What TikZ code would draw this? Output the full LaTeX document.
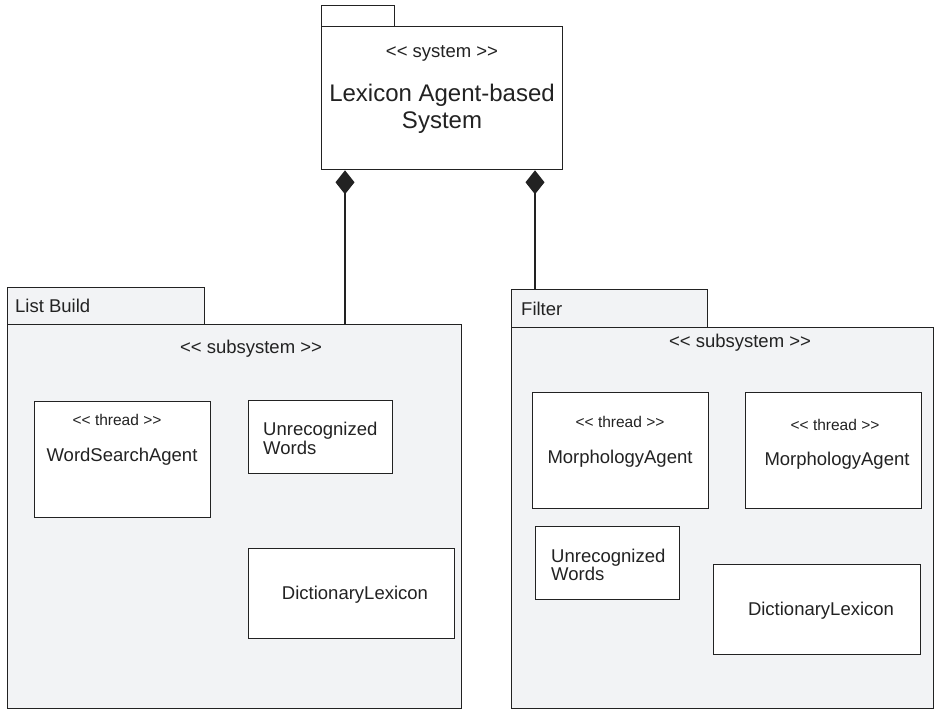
\documentclass[tikz,border=0pt]{standalone}
\usepackage{fontspec}
\setmainfont{Liberation Sans}
\usetikzlibrary{arrows.meta, positioning}
\definecolor{ink}{HTML}{222222}
\definecolor{pkggray}{HTML}{F2F3F5}
\newcommand{\stereo}[1]{<{}< #1 >{}>}

\begin{document}
\begin{tikzpicture}[
  x=1pt, y=-1pt,
  txt/.style={font=\fontsize{18.5}{17}\selectfont, text=ink, inner sep=0pt},
  small/.style={font=\fontsize{15.5}{17}\selectfont, text=ink, inner sep=0pt},
  title/.style={font=\fontsize{24}{27}\selectfont, text=ink, align=center, inner sep=0pt},
  box/.style={draw=ink, line width=1.3pt, fill=white, anchor=north west, inner sep=0pt},
  pkg/.style={box, fill=pkggray},
  comp/.style={{Diamond[length=24pt, width=19pt]}-, line width=1.3pt, draw=ink},
]
\useasboundingbox (0,0) rectangle (935,710);

% ---------- SYSTEM PACKAGE ----------
\node[box, minimum width=73pt, minimum height=21pt] (sysTab) at (321,5) {};
\node[box, minimum width=241pt, minimum height=143pt] (sys) at (321,26) {};
\node[txt] (sysStereo) at (442,53) {\stereo{system}};
\node[title] (sysName) at (442,108.5) {Lexicon Agent-based\\System};

% ---------- LIST BUILD PACKAGE ----------
\node[pkg, minimum width=197pt, minimum height=37pt] (lbTab) at (7,287) {};
\node[pkg, minimum width=454pt, minimum height=384pt] (lb) at (7,324) {};
\node[txt, right=8pt of lbTab.west] (lbName) {List Build};
\node[txt] (lbStereo) at (251,349) {\stereo{subsystem}};

\node[box, minimum width=176pt, minimum height=116pt] (wsa) at (34,401) {};
\node[small] (wsaStereo) at (117,420) {\stereo{thread}};
\node[txt] (wsaName) at (122,457) {WordSearchAgent};

\node[box, minimum width=144pt, minimum height=73pt] (lbWords) at (248,400) {};
\node[txt, anchor=west, align=left] (lbWordsName) at (263,438.5) {Unrecognized\\Words};

\node[box, minimum width=206pt, minimum height=90pt] (lbDict) at (248,548) {};
\node[txt] (lbDictName) at (355,595) {DictionaryLexicon};

% ---------- FILTER PACKAGE ----------
\node[pkg, minimum width=196pt, minimum height=38pt] (ftTab) at (511,289) {};
\node[pkg, minimum width=422pt, minimum height=381pt] (ft) at (511,327) {};
\node[txt, right=10pt of ftTab.west] (ftName) {Filter};
\node[txt] (ftStereo) at (740,343) {\stereo{subsystem}};

\node[box, minimum width=176pt, minimum height=116pt] (maA) at (532,392) {};
\node[small] (maAStereo) at (620,422) {\stereo{thread}};
\node[txt] (maAName) at (620,459) {MorphologyAgent};

\node[box, minimum width=176pt, minimum height=116pt] (maB) at (745,392) {};
\node[small] (maBStereo) at (835,425) {\stereo{thread}};
\node[txt] (maBName) at (837,461) {MorphologyAgent};

\node[box, minimum width=144pt, minimum height=73pt] (ftWords) at (535,526) {};
\node[txt, anchor=west, align=left] (ftWordsName) at (551,565) {Unrecognized\\Words};

\node[box, minimum width=207pt, minimum height=90pt] (ftDict) at (713,564) {};
\node[txt] (ftDictName) at (821,611) {DictionaryLexicon};

% ---------- COMPOSITION LINKS ----------
\coordinate (lbJoin) at (345,324);
\coordinate (ftJoin) at (535,289);
\draw[comp] (sys.south -| lbJoin) -- (lbJoin);
\draw[comp] (sys.south -| ftJoin) -- (ftJoin);

\end{tikzpicture}
\end{document}
